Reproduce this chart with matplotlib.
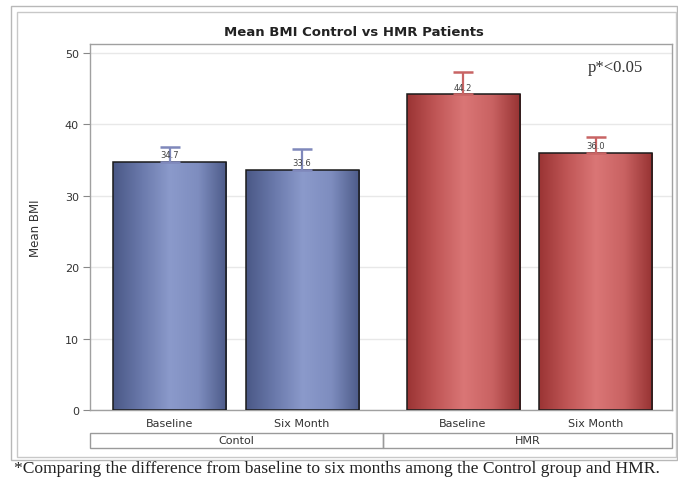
import numpy as np
import matplotlib.pyplot as plt
from matplotlib.colors import LinearSegmentedColormap
from matplotlib.patches import Rectangle

# ─── Data ─────────────────────────────────────────────────────────────────────
GROUPS     = ["Contol", "HMR"]
TIMEPOINTS = ["Baseline", "Six Month"]
MEAN_BMI   = [[34.7, 33.6], [44.2, 36.0]]
UPPER_ERR  = [[2.1, 2.9], [3.1, 2.3]]

BAR_CMAPS = {
    "Contol": LinearSegmentedColormap.from_list(
        "blu", ["#4a5886", "#6a79ab", "#8b9acb", "#7e8dbf", "#4c5a88"]),
    "HMR": LinearSegmentedColormap.from_list(
        "red", ["#9a3434", "#c05656", "#da7676", "#c96262", "#963232"]),
}
ERR_COLORS = {"Contol": "#7f88bb", "HMR": "#c86464"}

# ─── Figure ───────────────────────────────────────────────────────────────────
fig = plt.figure(figsize=(6.78, 4.81), dpi=100)
W, H = 678, 481

def fx(px):
    return px / W

def fy(py):
    return 1 - py / H

# outer double frame
fig.patches.append(Rectangle((fx(11), fy(461)), fx(677 - 11), (461 - 7) / H,
                             transform=fig.transFigure, fill=False,
                             edgecolor="#b8b8b8", linewidth=1.0))
fig.patches.append(Rectangle((fx(17), fy(458)), fx(676 - 17), (458 - 13) / H,
                             transform=fig.transFigure, fill=False,
                             edgecolor="#c8c8c8", linewidth=1.0))

AX_L, AX_R, AX_T, AX_B = 90, 672, 45, 411
ax = fig.add_axes([fx(AX_L), fy(AX_B), fx(AX_R - AX_L), (AX_B - AX_T) / H])

GAP   = 2.215
WIDTH = 0.853
XMIN, XMAX = -0.6, 3.792
grad  = np.linspace(0, 1, 256).reshape(1, -1)
xpos  = []
for g, grp in enumerate(GROUPS):
    for i, tp in enumerate(TIMEPOINTS):
        x = g * GAP + i
        xpos.append(x)
        val = MEAN_BMI[g][i]
        err = UPPER_ERR[g][i]
        left = x - WIDTH / 2
        # gradient fill clipped to the bar
        im = ax.imshow(grad, cmap=BAR_CMAPS[grp], aspect="auto",
                       extent=[left, left + WIDTH, 0, val], zorder=2)
        bar = Rectangle((left, 0), WIDTH, val, facecolor="none",
                        edgecolor="#1a1a1a", linewidth=1.1, zorder=3)
        ax.add_patch(bar)
        im.set_clip_path(bar)
        # upper error whisker only
        ax.errorbar([x], [val], yerr=[[0], [err]], fmt="none",
                    ecolor=ERR_COLORS[grp], elinewidth=1.6, capsize=7,
                    capthick=1.8, zorder=4)
        ax.text(x, val + 0.4, f"{val:.1f}", ha="center", va="bottom",
                fontsize=6, color="#444444", zorder=5)

ax.set_xlim(XMIN, XMAX)
ax.set_ylim(0, 50 * (AX_B - AX_T) / (AX_B - 54))
ax.set_yticks(range(0, 51, 10))
ax.set_xticks(xpos)
ax.set_xticklabels(TIMEPOINTS * len(GROUPS), fontsize=8, color="#333333")
ax.tick_params(axis="x", length=0, pad=6)
ax.tick_params(axis="y", labelsize=8, labelcolor="#333333",
               color="#888888", length=5, pad=3)
ax.set_ylabel("Mean BMI", fontsize=8.5, color="#333333")
ax.yaxis.set_label_coords((42 - AX_L) / (AX_R - AX_L), 0.5)
ax.grid(axis="y", color="#e8e8e8", linewidth=1.0, zorder=0)
ax.set_axisbelow(True)
for s in ax.spines.values():
    s.set_color("#a0a0a0")
    s.set_linewidth(1.0)

# group label row under the x axis
div = (xpos[1] + xpos[2]) / 2
trans = ax.get_xaxis_transform()
ax_h = AX_B - AX_T
row_top, row_bot = -(434 - AX_B) / ax_h, -(449 - AX_B) / ax_h
for x0, x1, label in [(XMIN, div, GROUPS[0]), (div, XMAX, GROUPS[1])]:
    ax.add_patch(Rectangle((x0, row_bot), x1 - x0, row_top - row_bot,
                           transform=trans, fill=False, edgecolor="#9a9a9a",
                           linewidth=1.0, clip_on=False))
    ax.text((x0 + x1) / 2, (row_top + row_bot) / 2, label, transform=trans,
            ha="center", va="center", fontsize=8, color="#333333")

fig.text(fx(354), fy(32), "Mean BMI Control vs HMR Patients",
         ha="center", va="center", fontsize=9.5, fontweight="bold",
         color="#222222")
fig.text(fx(615), fy(68), "p*<0.05", ha="center", va="center",
         fontsize=12, family="Liberation Serif", color="#333333")
fig.text(fx(14), fy(469),
         "*Comparing the difference from baseline to six months among "
         "the Control group and HMR.",
         ha="left", va="center", fontsize=12.6, family="Liberation Serif",
         color="#222222")

plt.savefig("out.png", dpi=100)
